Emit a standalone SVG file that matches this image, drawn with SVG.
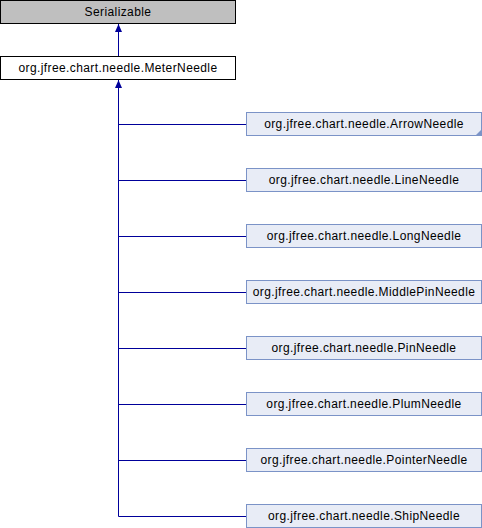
<svg xmlns="http://www.w3.org/2000/svg" width="482" height="528" viewBox="0 0 482 528">
<style>
  text { font-family: "Liberation Sans", Arial, sans-serif; font-size: 12px; fill: #000; text-anchor: middle; letter-spacing: 0.4px; }
  .base { fill: #bfbfbf; stroke: #000; stroke-width: 1; }
  .cur { fill: #fff; stroke: #000; stroke-width: 1; }
  .cls { fill: #e8ecf6; stroke: #7b93c7; stroke-width: 1; }
  .edge { fill: none; stroke: #00009a; stroke-width: 1; }
</style>
<defs>
  <marker id="arr" viewBox="0 0 8 8" refX="8" refY="4" markerWidth="8" markerHeight="8" orient="auto" markerUnits="userSpaceOnUse">
    <path d="M0,0.5 L8,4 L0,7.5 Z" fill="#00009a"/>
  </marker>
</defs>
<rect width="482" height="528" fill="#fff"/>
<g id="connectors">
  <path class="edge" d="M118.5,56 V24" marker-end="url(#arr)"/>
  <path class="edge" d="M118.5,516.5 V80" marker-end="url(#arr)"/>
  <path class="edge" d="M118.5,124.5 H246"/>
  <path class="edge" d="M118.5,180.5 H246"/>
  <path class="edge" d="M118.5,236.5 H246"/>
  <path class="edge" d="M118.5,292.5 H246"/>
  <path class="edge" d="M118.5,348.5 H246"/>
  <path class="edge" d="M118.5,404.5 H246"/>
  <path class="edge" d="M118.5,460.5 H246"/>
  <path class="edge" d="M118.5,516.5 H246"/>
</g>
<g id="Serializable">
  <rect class="base" x="0.5" y="0.5" width="235" height="23"/>
  <text x="118" y="16">Serializable</text>
</g>
<g id="MeterNeedle">
  <rect class="cur" x="0.5" y="56.5" width="235" height="23"/>
  <text x="118" y="72">org.jfree.chart.needle.MeterNeedle</text>
</g>
<g id="ArrowNeedle">
  <rect class="cls" x="246.5" y="112.5" width="235" height="23"/>
  <polygon points="481,130 481,135 476,135" fill="#7b93c7"/>
  <text x="364" y="128">org.jfree.chart.needle.ArrowNeedle</text>
</g>
<g id="LineNeedle">
  <rect class="cls" x="246.5" y="168.5" width="235" height="23"/>
  <text x="364" y="184">org.jfree.chart.needle.LineNeedle</text>
</g>
<g id="LongNeedle">
  <rect class="cls" x="246.5" y="224.5" width="235" height="23"/>
  <text x="364" y="240">org.jfree.chart.needle.LongNeedle</text>
</g>
<g id="MiddlePinNeedle">
  <rect class="cls" x="246.5" y="280.5" width="235" height="23"/>
  <text x="364" y="296">org.jfree.chart.needle.MiddlePinNeedle</text>
</g>
<g id="PinNeedle">
  <rect class="cls" x="246.5" y="336.5" width="235" height="23"/>
  <text x="364" y="352">org.jfree.chart.needle.PinNeedle</text>
</g>
<g id="PlumNeedle">
  <rect class="cls" x="246.5" y="392.5" width="235" height="23"/>
  <text x="364" y="408">org.jfree.chart.needle.PlumNeedle</text>
</g>
<g id="PointerNeedle">
  <rect class="cls" x="246.5" y="448.5" width="235" height="23"/>
  <text x="364" y="464">org.jfree.chart.needle.PointerNeedle</text>
</g>
<g id="ShipNeedle">
  <rect class="cls" x="246.5" y="504.5" width="235" height="23"/>
  <text x="364" y="520">org.jfree.chart.needle.ShipNeedle</text>
</g>
</svg>
